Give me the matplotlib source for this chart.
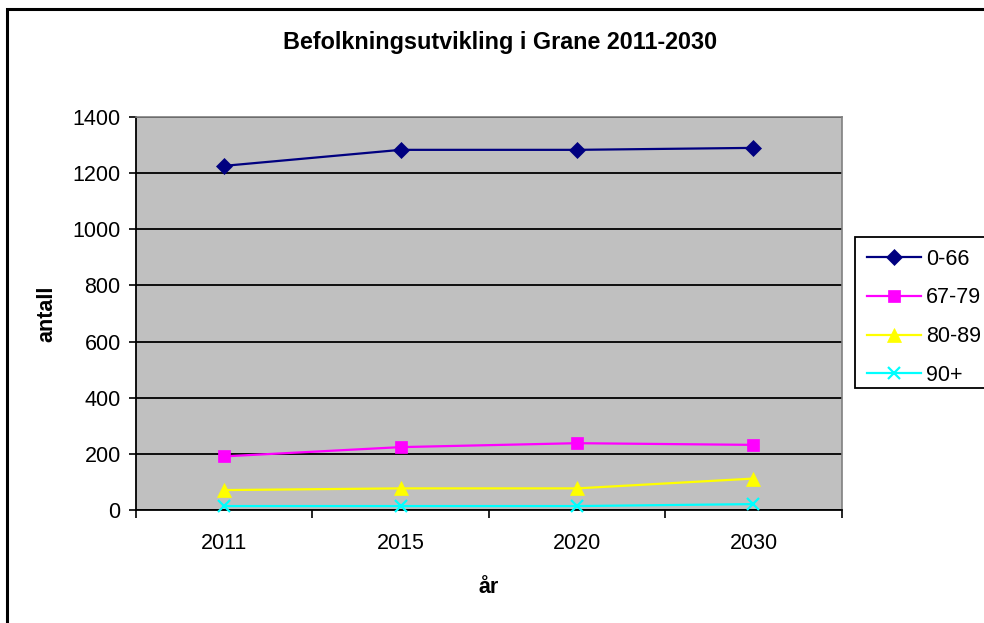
import matplotlib
matplotlib.use("Agg")
import matplotlib.pyplot as plt
from matplotlib.patches import Rectangle

years = ["2011", "2015", "2020", "2030"]
series_names = ["0-66", "67-79", "80-89", "90+"]
v_0_66 = [1226, 1283, 1283, 1290]
v_67_79 = [191, 224, 238, 232]
v_80_89 = [71, 77, 77, 112]
v_90 = [14, 14, 14, 21]
yticks = [0, 200, 400, 600, 800, 1000, 1200, 1400]

plt.rcParams['font.family'] = ['Liberation Sans', 'DejaVu Sans']

fig = plt.figure(figsize=(9.84, 6.23), dpi=100)
W, H = 984, 623
ax = fig.add_axes([136/W, 1-510/H, (841.7-136)/W, (510-117)/H])
ax.set_facecolor('#C0C0C0')

FS = 15.5

x = list(range(len(years)))
styles = [
    (v_0_66, '#000080', 'D', 8),
    (v_67_79, '#FF00FF', 's', 8),
    (v_80_89, '#FFFF00', '^', 10),
    (v_90, '#00FFFF', 'x', 8),
]
for (vals, c, m, ms), name in zip(styles, series_names):
    ax.plot(x, vals, color=c, marker=m, markersize=ms, lw=1.6,
            markeredgewidth=1.6 if m == 'x' else 0.5, markeredgecolor=c,
            label=name, clip_on=False, zorder=3)

ax.set_xlim(-0.5, len(years) - 0.5)
ax.set_ylim(0, 1400)
ax.set_yticks(yticks)
ax.yaxis.grid(True, color='black', lw=1.3)
ax.set_axisbelow(True)
ax.set_xticks([i + 0.5 for i in range(-1, len(years))])
ax.set_xticklabels([])
ax.set_xticks(x, minor=True)
ax.set_xticklabels(years, minor=True)
ax.tick_params(axis='x', which='minor', length=0, pad=16.5, labelsize=FS)
ax.tick_params(axis='x', which='major', length=6, width=1.2, direction='out')
ax.tick_params(axis='y', length=5, width=1.2, direction='out', labelsize=FS, pad=6)
for s in ['top', 'right']:
    ax.spines[s].set_color('#808080')
    ax.spines[s].set_linewidth(1.2)
for s in ['left', 'bottom']:
    ax.spines[s].set_color('black')
    ax.spines[s].set_linewidth(1.3)

ax.set_ylabel('antall', fontsize=FS, fontweight='bold', labelpad=11)
ax.set_xlabel('år', fontsize=FS, fontweight='bold', labelpad=16.5)
fig.text(500/W, 1-43/H, 'Befolkningsutvikling i Grane 2011-2030', ha='center', va='center',
         fontsize=16.8, fontweight='bold')

leg = fig.legend(loc='upper left', bbox_to_anchor=(855/W, 1-237/H), fontsize=FS,
                 frameon=False, handlelength=2.5, handletextpad=0.25, labelspacing=0.82,
                 borderpad=0.55, borderaxespad=0)
fig.add_artist(Rectangle((855/W, 1-388/H), 0.2, (388-237)/H, transform=fig.transFigure,
                         facecolor='white', edgecolor='black', lw=1.3, clip_on=False,
                         zorder=0))

fig.add_artist(Rectangle((7/W, -0.05), 1.1, 1-9/H + 0.05, transform=fig.transFigure,
                         fill=False, edgecolor='black', lw=2.2, clip_on=False))

fig.savefig('out.png', dpi=100)
